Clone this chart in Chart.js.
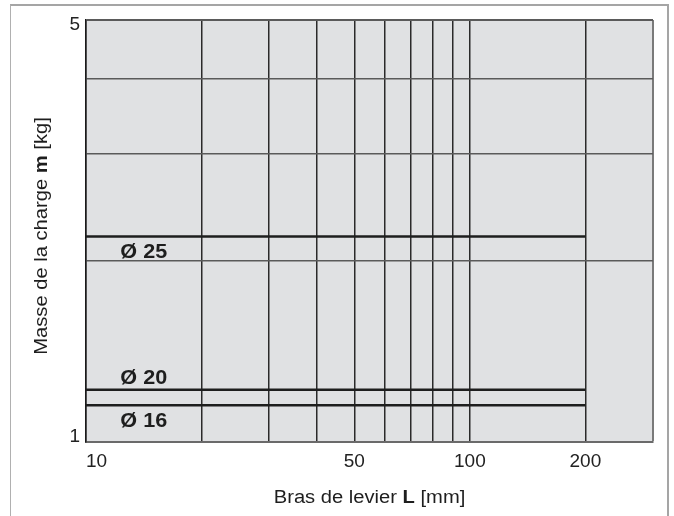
<!DOCTYPE html>
<html><head><meta charset="utf-8">
<script src="https://cdn.jsdelivr.net/npm/chart.js@4/dist/chart.umd.min.js"></script>
<style>
html,body{margin:0;padding:0;background:#fff;}
#wrap{position:relative;width:674px;height:516px;overflow:hidden;}
#frame{position:absolute;left:10px;top:4px;width:656px;height:530px;border-top:2px solid #a5a5a5;border-left:1px solid #b0b0b0;border-right:2px solid #a5a5a5;}
canvas{position:absolute;left:0;top:0;}
</style></head><body>
<div id="wrap"><div id="frame"></div><canvas id="c" width="674" height="516"></canvas></div>
<script>
// ---- data ----
const seriesNames = ['Ø 25', 'Ø 20', 'Ø 16'];
const seriesStartL = [10, 10, 10];
const seriesEndL = [200, 200, 200];
const seriesMass = [2.19, 1.22, 1.15];
const seriesLabelSide = ['below', 'above', 'below'];
const xGridValues = [10, 20, 30, 40, 50, 60, 70, 80, 90, 100, 200, 300];
const xTickLabels = [10, 50, 100, 200];
const yGridValues = [1, 2, 3, 4, 5];
const yTickLabels = [1, 5];
const xTitleParts = [['Bras de levier ', false], ['L', true], [' [mm]', false]];
const yTitleParts = [['Masse de la charge ', false], ['m', true], [' [kg]', false]];

const FONT = '"Liberation Sans", Arial, Helvetica, sans-serif';

function drawRich(ctx, parts, size, sx) {
  const widths = parts.map(([t, b]) => { ctx.font = (b ? 'bold ' : '') + size + 'px ' + FONT; return ctx.measureText(t).width; });
  const total = widths.reduce((a, b) => a + b, 0);
  ctx.save();
  ctx.scale(sx, 1);
  ctx.textAlign = 'left';
  ctx.textBaseline = 'alphabetic';
  let x = -total / 2;
  parts.forEach(([t, b], i) => { ctx.font = (b ? 'bold ' : '') + size + 'px ' + FONT; ctx.fillText(t, x, 0); x += widths[i]; });
  ctx.restore();
}

const deco = {
  id: 'deco',
  beforeDraw(chart) {
    const {ctx, chartArea: a} = chart;
    ctx.save();
    ctx.fillStyle = '#e0e1e3';
    ctx.fillRect(a.left, a.top, a.right - a.left, a.bottom - a.top);
    ctx.restore();
  },
  afterDraw(chart) {
    const {ctx, chartArea: a, scales} = chart;
    ctx.save();
    ctx.fillStyle = '#1e1e1e';
    ctx.save();
    ctx.translate((a.left + a.right) / 2, 503);
    drawRich(ctx, xTitleParts, 18, 1.12);
    ctx.restore();
    ctx.save();
    ctx.translate(46.5, (a.top + a.bottom) / 2 + 5);
    ctx.rotate(-Math.PI / 2);
    drawRich(ctx, yTitleParts, 18, 1.12);
    ctx.restore();
    const lx = scales.x.getPixelForValue(Math.sqrt(xGridValues[0] * xGridValues[1]));
    seriesNames.forEach((name, i) => {
      const py = scales.y.getPixelForValue(seriesMass[i]);
      const by = seriesLabelSide[i] === 'below' ? py + 21.5 : py - 6;
      ctx.save();
      ctx.translate(lx, by);
      drawRich(ctx, [[name, true]], 20, 1.08);
      ctx.restore();
    });
    ctx.restore();
  }
};

const datasets = seriesNames.map((name, i) => ({
  label: name,
  data: [{x: seriesStartL[i], y: seriesMass[i]}, {x: seriesEndL[i], y: seriesMass[i]}],
  borderColor: '#1e1e1e',
  borderWidth: 2.5,
  pointRadius: 0,
  fill: false,
  tension: 0
}));

new Chart(document.getElementById('c'), {
  type: 'line',
  data: {datasets},
  plugins: [deco],
  options: {
    responsive: false,
    devicePixelRatio: 1,
    animation: false,
    layout: {padding: {top: 20, right: 21, left: 0, bottom: 0}},
    plugins: {legend: {display: false}, tooltip: {enabled: false}},
    scales: {
      x: {
        type: 'logarithmic',
        min: 10, max: 300,
        afterBuildTicks: s => { s.ticks = xGridValues.map(v => ({value: v})); },
        afterFit: s => { s.height = 74; },
        grid: {
          drawTicks: false,
          color: c => (c.tick && c.tick.value === 300) ? '#7a7a7a' : '#2a2a2a',
          lineWidth: c => (c.tick && c.tick.value === 300) ? 2 : 1.5
        },
        border: {display: true, color: '#6a6a6a', width: 2},
        ticks: {
          autoSkip: false, maxRotation: 0, minRotation: 0,
          align: 'inner',
          padding: 8,
          color: '#222',
          font: {family: FONT, size: 19},
          callback: v => xTickLabels.includes(v) ? String(v) : ''
        }
      },
      y: {
        type: 'logarithmic',
        min: 1, max: 5,
        afterBuildTicks: s => { s.ticks = yGridValues.map(v => ({value: v})); },
        afterFit: s => { s.width = 86; },
        grid: {
          drawTicks: false,
          color: '#5a5a5a',
          lineWidth: c => (c.tick && c.tick.value === 5) ? 2 : 1.5
        },
        border: {display: true, color: '#1a1a1a', width: 1.5},
        ticks: {
          autoSkip: false,
          padding: 6,
          color: '#222',
          font: {family: FONT, size: 19, lineHeight: 0.55},
          callback: v => {
            if (!yTickLabels.includes(v)) return '';
            if (v === yGridValues[yGridValues.length - 1]) return ['', String(v)];
            if (v === yGridValues[0]) return [String(v), ''];
            return String(v);
          }
        }
      }
    }
  }
});
</script>
</body></html>
